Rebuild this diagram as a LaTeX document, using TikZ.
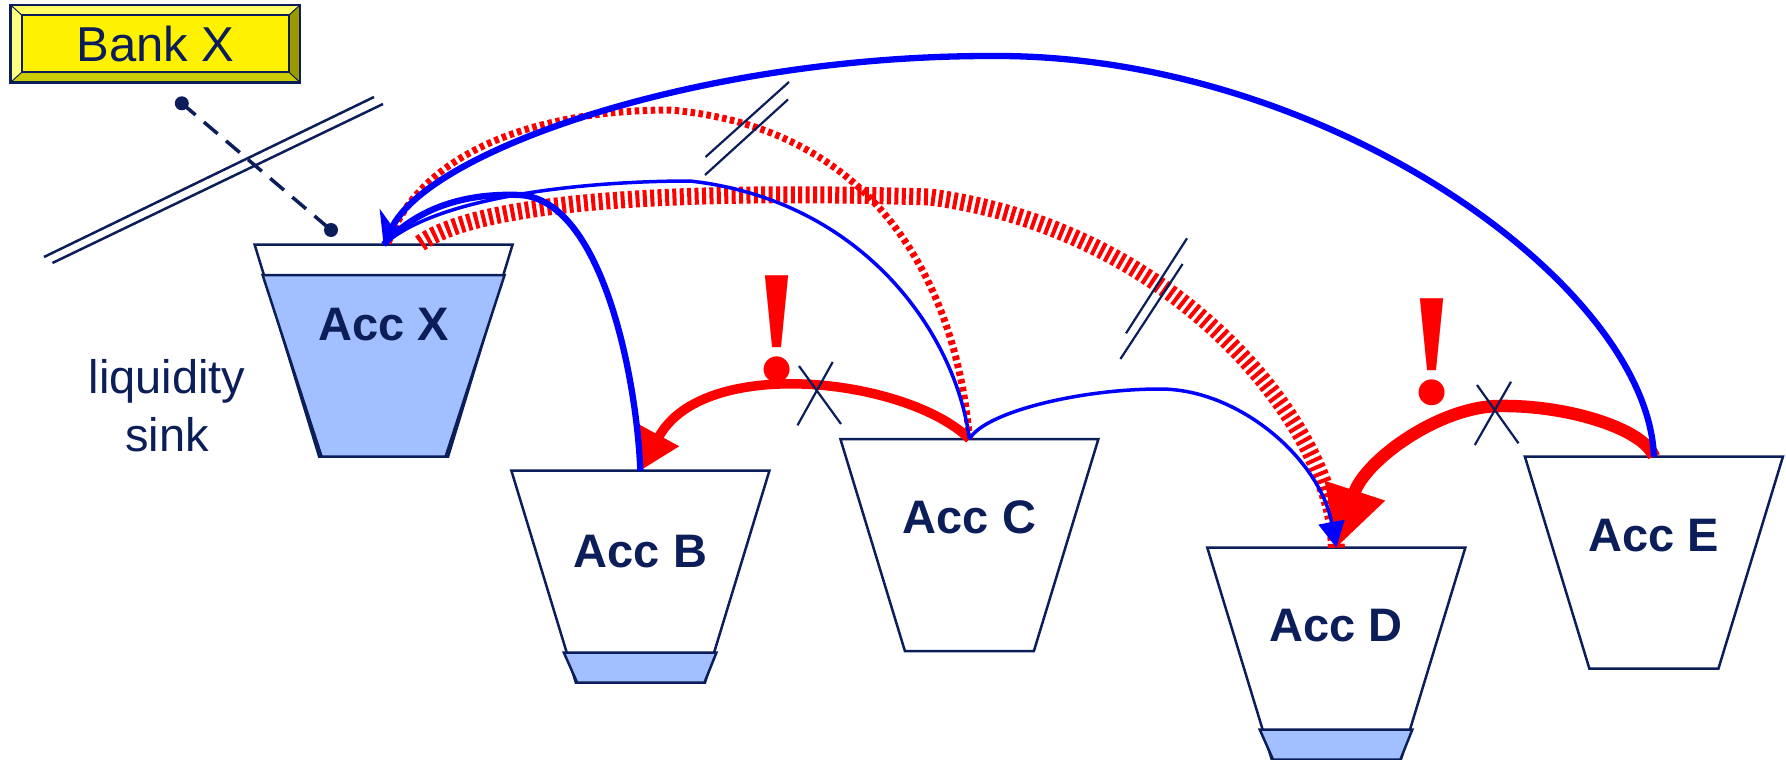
\documentclass[tikz,border=0pt]{standalone}
\usepackage{fontspec}
\setmainfont{Liberation Sans}
\newfontfamily\exclfont{Liberation Serif}
\usetikzlibrary{arrows.meta,calc}
\definecolor{navy}{RGB}{12,30,90}
\definecolor{accfill}{RGB}{162,192,255}
\definecolor{bevtop}{RGB}{255,255,102}
\definecolor{bevleft}{RGB}{255,255,128}
\definecolor{bevbot}{RGB}{204,204,0}
\definecolor{bevright}{RGB}{153,153,0}
\begin{document}
\begin{tikzpicture}[x=1pt,y=-1pt,
  bankbox/.style={rectangle, fill=yellow, minimum width=289.3pt, minimum height=77.3pt, inner sep=0pt, outer sep=0pt, text=navy, font=\fontsize{49}{56}\selectfont},
  bucketbox/.style={rectangle, minimum width=258pt, minimum height=212pt, inner sep=0pt, outer sep=0pt},
  bucketline/.style={draw=navy, line width=2.5pt, fill=white, line join=miter},
  water/.style={fill=accfill, draw=navy, line width=2.5pt},
  acclabel/.style={font=\fontsize{47}{56}\selectfont\bfseries, text=navy, anchor=base, inner sep=0pt},
  sinklabel/.style={font=\fontsize{47}{58}\selectfont, text=navy, align=center, anchor=north, inner sep=0pt},
  excl/.style={font=\fontsize{160}{160}\selectfont\exclfont\bfseries, text=red, anchor=base, inner sep=0pt},
  dot/.style={circle, fill=navy, minimum size=14pt, inner sep=0pt},
  navyline/.style={draw=navy, line width=2.5pt},
  crossmark/.style={draw=navy, line width=2.2pt},
  stripeband/.style={draw=red, line width=17pt, dash pattern=on 4pt off 3.4pt},
  stripethin/.style={draw=red, line width=7pt, dash pattern=on 4.5pt off 3.5pt},
  redpay/.style={draw=red},
  bluepay/.style={draw=blue}]
\fill[white] (0,0) rectangle (1786,760);
\useasboundingbox (0,0) rectangle (1786,760);

% Bank X
\node[bankbox] (bank) at (155.35,43.65) {Bank X};
\fill[bevtop] (bank.north west) -- (bank.north east) -- ($(bank.north east)+(-11,10)$) -- ($(bank.north west)+(11,10)$) -- cycle;
\fill[bevleft] (bank.north west) -- ($(bank.north west)+(11,10)$) -- ($(bank.south west)+(11,-10)$) -- (bank.south west) -- cycle;
\fill[bevbot] (bank.south west) -- ($(bank.south west)+(11,-10)$) -- ($(bank.south east)+(-11,-10)$) -- (bank.south east) -- cycle;
\fill[bevright] (bank.south east) -- ($(bank.south east)+(-11,-10)$) -- ($(bank.north east)+(-11,10)$) -- (bank.north east) -- cycle;
\draw[navy, line width=1pt] (bank.north west) -- ++(11,10) (bank.north east) -- ++(-11,10) (bank.south west) -- ++(11,-10) (bank.south east) -- ++(-11,-10);
\draw[navy, line width=2pt] ($(bank.north west)+(11,10)$) rectangle ($(bank.south east)+(-11,-10)$);
\draw[navy, line width=2.5pt] (bank.north west) rectangle (bank.south east);

% double line
\draw[navyline] (44,257) -- (374,97);
\draw[navyline] (52.4,263) -- (383,104);

% dots and dashed link
\node[dot] (d1) at (181.8,103.3) {};
\node[dot] (d2) at (331,230) {};
\draw[navy, line width=3.5pt, dash pattern=on 18pt off 11pt] (d1.center) -- (d2.center);

% buckets
\foreach \n/\cx/\cy in {X/383.6/350.5, B/640.4/576.7, C/969.4/545, D/1336.3/653.7, E/1653.9/562.7}{
  \node[bucketbox] (\n) at (\cx,\cy) {};
  \draw[bucketline] (\n.north west) -- (\n.north east) -- ($(\n.south east)+(-64.5,0)$) -- ($(\n.south west)+(64.5,0)$) -- cycle;
}

\draw[water] ($(X.center)+(-121,-75.5)$) -- ($(X.center)+(121,-75.5)$) -- ($(X.center)+(62,106)$) -- ($(X.center)+(-62,106)$) -- cycle;
\draw[water] ($(B.center)+(-76.5,76)$) -- ($(B.center)+(76,76)$) -- ($(B.center)+(64,106)$) -- ($(B.center)+(-63.2,106)$) -- cycle;
\draw[water] ($(D.center)+(-76.5,76)$) -- ($(D.center)+(76,76)$) -- ($(D.center)+(64,106)$) -- ($(D.center)+(-63.2,106)$) -- cycle;

% labels
\node[acclabel] (Xl) at (383.6,340) {Acc X};
\node[acclabel] (Bl) at (640.4,567.3) {Acc B};
\node[acclabel] (Cl) at (969.4,533) {Acc C};
\node[acclabel] (Dl) at (1336.3,641.7) {Acc D};
\node[acclabel] (El) at (1653.9,551.7) {Acc E};
\node[sinklabel] (sink) at (167,359) {liquidity\\sink};

% striped flows
\draw[stripeband] (D.north) .. controls (1336,430) and (1180,230) .. (930,197) .. controls (700,190) and (480,198) .. ($(X.north)+(35,0)$);
\draw[stripethin] (C.north) .. controls (960,320) and (900,130) .. (670,110) .. controls (540,110) and (420,150) .. ($(X.north)+(4,0)$);

% red blocked payments
\draw[redpay, line width=9.5pt, -{Triangle[length=40pt,width=42pt]}] (C.north) .. controls (909,379) and (704,353.5) .. (B.north);
\draw[redpay, line width=12.5pt, -{Triangle[length=60pt,width=60pt]}] (E.north) .. controls (1645,430) and (1570,405) .. (1500,406) .. controls (1440,406) and (1365,460) .. (D.north);

% blue payments
\draw[bluepay, line width=3.5pt, -{Triangle[length=26pt,width=26pt]}] (C.north) .. controls (985,412) and (1080,389) .. (1160,389) .. controls (1240,389) and (1320,460) .. (D.north);
\draw[bluepay, line width=6.3pt] (B.north) .. controls (636,370) and (600,200) .. (520,195) .. controls (470,193) and (420,205) .. (X.north);
\draw[bluepay, line width=3.5pt] (C.north) .. controls (955,330) and (860,200) .. (690,181) .. controls (590,181) and (440,195) .. (X.north);
\draw[bluepay, line width=6.3pt, -{Stealth[length=30pt,width=38pt,inset=10pt]}] (E.north) .. controls (1648,285) and (1325,53) .. (990,56) .. controls (700,56) and (430,150) .. (X.north);

% cross marks
\draw[crossmark] (799,366) -- (841,424);
\draw[crossmark] (832.7,362) -- (797.5,425.3);
\draw[crossmark] (1477,385) -- (1518.5,443.3);
\draw[crossmark] (1511,381.7) -- (1474.8,445);
% slash marks
\draw[crossmark] (705.5,157) -- (789,82);
\draw[crossmark] (705,175) -- (788,99.5);
\draw[crossmark] (1187,238.3) -- (1126,333.3);
\draw[crossmark] (1182.6,264) -- (1120.4,359);

% exclamation marks
\node[excl] (ex1) at (777,380) {!};
\node[excl] (ex2) at (1432.5,403) {!};
\end{tikzpicture}
\end{document}
